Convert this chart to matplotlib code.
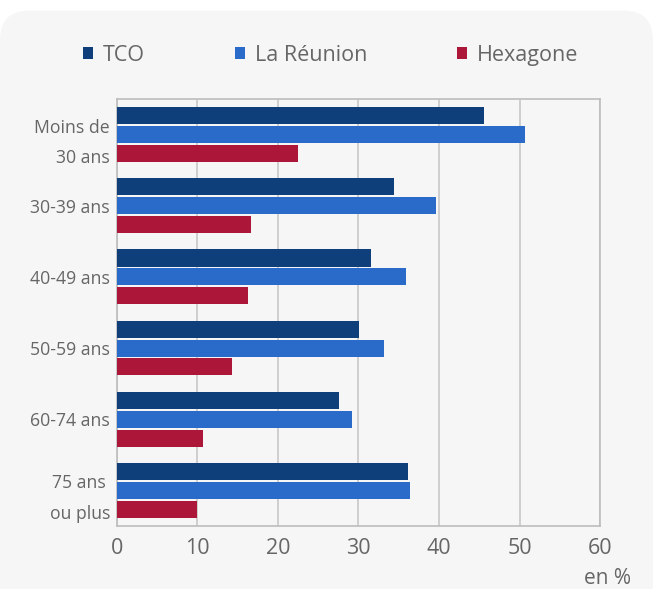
import matplotlib.pyplot as plt
from matplotlib.patches import FancyBboxPatch
import numpy as np

categories = ["Moins de\n30 ans", "30-39 ans", "40-49 ans", "50-59 ans", "60-74 ans", "75 ans \nou plus"]
tco = [45.6, 34.4, 31.6, 30.1, 27.6, 36.1]
reunion = [50.7, 39.6, 35.9, 33.2, 29.2, 36.4]
hexagone = [22.5, 16.6, 16.3, 14.3, 10.7, 9.9]
series = [("TCO", tco, "#0e3f7a"), ("La Réunion", reunion, "#2a6ac8"), ("Hexagone", hexagone, "#ac1639")]

plt.rcParams["font.family"] = ["Open Sans", "DejaVu Sans"]
txt = "#666666"
bg = "#f6f6f6"

fig = plt.figure(figsize=(6.53, 5.89), dpi=100, facecolor="white")
panel = FancyBboxPatch((0.0, -0.05), 1.0, 1.032, boxstyle="round,pad=0,rounding_size=0.045",
                       transform=fig.transFigure, facecolor=bg, edgecolor="none", zorder=-10,
                       mutation_aspect=653 / 589)
fig.patches.append(panel)

ax = fig.add_axes([0.179, 0.107, 0.74, 0.725])
ax.set_facecolor(bg)

y = np.arange(len(categories))
h = 0.24
step = 0.265
for i, (name, vals, col) in enumerate(series):
    ax.barh(y + (i - 1) * step, vals, height=h, color=col, label=name, zorder=3)

ax.set_xlim(0, 60)
ax.set_ylim(len(categories) - 0.5, -0.5)
ax.set_xticks(range(0, 61, 10))
ax.set_yticks(y)
ax.set_yticklabels(categories, fontsize=12.7, color=txt, linespacing=1.9)
ax.tick_params(axis="x", labelsize=15.5, colors=txt, length=0, pad=9)
ax.tick_params(axis="y", length=0, pad=5)
ax.grid(axis="x", color="#c8c8c8", linewidth=1.2, zorder=0)
for s in ax.spines.values():
    s.set_color("#bdbdbd")
    s.set_linewidth(1.2)

leg = fig.legend(loc="center left", bbox_to_anchor=(0.097, 0.906), ncol=3, frameon=False,
                 fontsize=15.5, handlelength=0.5, handleheight=0.5, handletextpad=0.45,
                 columnspacing=4.15)
for t in leg.get_texts():
    t.set_color(txt)

fig.text(0.895, 0.0, "en %", fontsize=15, color=txt, ha="left", va="bottom")

fig.savefig("out.png", dpi=100, facecolor="white")
